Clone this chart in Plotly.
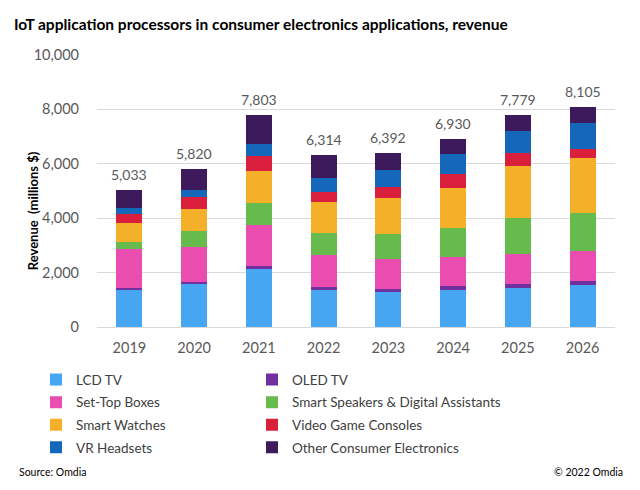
import plotly.graph_objects as go

years = ["2019", "2020", "2021", "2022", "2023", "2024", "2025", "2026"]
totals = [5033, 5820, 7803, 6314, 6392, 6930, 7779, 8105]
total_labels = ["5,033", "5,820", "7,803", "6,314", "6,392", "6,930", "7,779", "8,105"]

lcd_tv = [1387, 1595, 2123, 1350, 1276, 1374, 1448, 1534]
oled_tv = [36, 61, 122, 122, 110, 123, 147, 160]
set_top_boxes = [1436, 1289, 1497, 1190, 1129, 1080, 1104, 1104]
smart_speakers = [270, 589, 822, 797, 920, 1067, 1325, 1411]
smart_watches = [699, 797, 1178, 1141, 1313, 1472, 1890, 1988]
video_game_consoles = [332, 454, 552, 368, 405, 491, 466, 356]
vr_headsets = [220, 270, 418, 515, 613, 736, 834, 957]
other_ce = [653, 765, 1091, 831, 626, 587, 565, 595]

# (name, values, colour, legend column)
series = [
    ("LCD TV", lcd_tv, "#46A6F2", "legend"),
    ("OLED TV", oled_tv, "#7030A0", "legend2"),
    ("Set-Top Boxes", set_top_boxes, "#E94DAF", "legend"),
    ("Smart Speakers & Digital Assistants", smart_speakers, "#66BB4C", "legend2"),
    ("Smart Watches", smart_watches, "#F5B02A", "legend"),
    ("Video Game Consoles", video_game_consoles, "#DA1F3D", "legend2"),
    ("VR Headsets", vr_headsets, "#1567B9", "legend"),
    ("Other Consumer Electronics", other_ce, "#3C1A5C", "legend2"),
]

FONT = "Lato"
GRAY = "#595959"

# page body has an 8px default margin: work in page coords then subtract OFF
OFF = 8
W, H = 640 - OFF, 490 - OFF
PL, PR, PT, PB = 97 - OFF, 615 - OFF, 55 - OFF, 326.7 - OFF
PW, PH = PR - PL, PB - PT


def px_x(x):
    return (x - OFF - PL) / PW


def px_y(y):
    return (PB - (y - OFF)) / PH


fig = go.Figure()
for name, vals, color, leg in series:
    fig.add_trace(go.Bar(
        x=years, y=vals, name=name, legend=leg, legendgroup=name,
        marker=dict(color=color, line=dict(width=0)),
        hoverinfo="skip",
    ))

# total labels above each stack (x = category index on the category axis)
for i, (tot, lab) in enumerate(zip(totals, total_labels)):
    fig.add_annotation(
        x=i, y=tot, text=lab, showarrow=False,
        xanchor="center", yanchor="bottom", yshift=5,
        font=dict(family=FONT, size=14, color=GRAY),
    )

legend_common = dict(
    orientation="v", xanchor="left", yanchor="top",
    font=dict(family=FONT, size=13.5, color="#404040"),
    traceorder="grouped", tracegroupgap=2,
    itemclick=False, itemdoubleclick=False,
    bgcolor="rgba(0,0,0,0)",
)

fig.update_layout(
    width=W, height=H,
    barmode="stack", bargap=0.6,
    paper_bgcolor="white", plot_bgcolor="white",
    margin=dict(l=PL, r=W - PR, t=PT, b=H - PB, pad=0, autoexpand=False),
    font=dict(family=FONT, color=GRAY),
    xaxis=dict(
        type="category", range=[-0.5, len(years) - 0.5],
        showgrid=False, showline=True, linecolor="#D9D9D9", linewidth=1,
        tickfont=dict(family=FONT, size=14.5, color=GRAY),
        ticklabelstandoff=8,
    ),
    yaxis=dict(
        range=[0, 10000], dtick=2000, tickformat=",",
        showgrid=True, gridcolor="#D9D9D9", gridwidth=1,
        zeroline=False, showline=False,
        tickfont=dict(family=FONT, size=14.5, color=GRAY),
        ticklabelstandoff=17,
    ),
    legend=dict(x=px_x(36), y=px_y(364), **legend_common),
    legend2=dict(x=px_x(252), y=px_y(364), **legend_common),
    showlegend=True,
)

fig.add_annotation(
    text="<b>IoT application processors in consumer electronics applications, revenue</b>",
    xref="paper", yref="paper", x=px_x(12), y=px_y(24),
    xanchor="left", yanchor="middle", showarrow=False,
    font=dict(family=FONT, size=15.5, color="#000000"),
)
fig.add_annotation(
    text="<b>Revenue  (millions $)</b>",
    xref="paper", yref="paper", x=px_x(33), y=px_y(211),
    xanchor="center", yanchor="middle", textangle=-90, showarrow=False,
    font=dict(family=FONT, size=13, color="#000000"),
)
fig.add_annotation(
    text="Source: Omdia", xref="paper", yref="paper",
    x=px_x(17), y=px_y(472),
    xanchor="left", yanchor="middle", showarrow=False,
    font=dict(family=FONT, size=10.5, color="#000000"),
)
fig.add_annotation(
    text="© 2022 Omdia", xref="paper", yref="paper",
    x=px_x(625), y=px_y(472),
    xanchor="right", yanchor="middle", showarrow=False,
    font=dict(family=FONT, size=10.5, color="#000000"),
)

fig.write_html("out.html")
